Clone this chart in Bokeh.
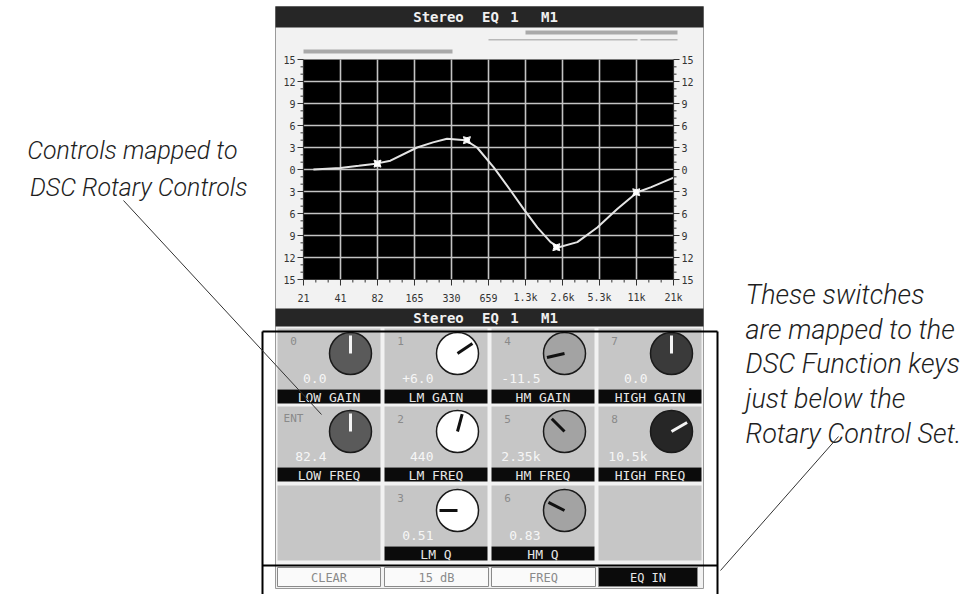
import math
from bokeh.plotting import figure
from bokeh.models import Range1d, LogScale
from bokeh.core.properties import value
from bokeh.embed import file_html
from bokeh.resources import INLINE

# ---------------- data ----------------
FREQ_HZ = [24.8, 41, 58, 80, 105, 173, 233, 303, 428, 532, 727, 1000, 1275,
           1645, 2110, 2460, 3480, 5060, 7350, 10700, 13900, 21100]
GAIN_DB = [0.0, 0.2, 0.5, 0.8, 1.2, 3.0, 3.7, 4.2, 4.0, 3.0, 0.3, -2.9, -5.4,
           -7.9, -9.9, -10.6, -9.9, -7.9, -5.4, -3.1, -2.4, -1.1]
BAND_FREQ = [82.4, 440, 2350, 10500]
BAND_GAIN = [0.8, 4.0, -10.6, -3.1]

X_TICKS = [20.6, 41.2, 82.4, 164.8, 329.6, 659.3, 1318.5, 2637, 5274, 10548, 21096]
X_TICK_LABELS = ["21", "41", "82", "165", "330", "659", "1.3k", "2.6k", "5.3k", "11k", "21k"]
Y_TICKS = [-15, -12, -9, -6, -3, 0, 3, 6, 9, 12, 15]
Y_TICK_LABELS = ["15", "12", "9", "6", "3", "0", "3", "6", "9", "12", "15"]

SCREEN_TITLE = ["Stereo", "EQ", "1", "M1"]
CONTROL_NAMES = ["LOW GAIN", "LM GAIN", "HM GAIN", "HIGH GAIN",
                 "LOW FREQ", "LM FREQ", "HM FREQ", "HIGH FREQ", "LM Q", "HM Q"]
CONTROL_KEYS = ["0", "1", "4", "7", "ENT", "2", "5", "8", "3", "6"]
CONTROL_VALUES = ["0.0", "+6.0", "-11.5", "0.0", "82.4", "440", "2.35k", "10.5k", "0.51", "0.83"]
KNOB_ANGLES_DEG = [90, 34, 193, 90, 90, 75, 135, 30, 180, 153]
BUTTON_LABELS = ["CLEAR", "15 dB", "FREQ", "EQ IN"]

LEFT_NOTE = ["Controls mapped to", "DSC Rotary Controls"]
RIGHT_NOTE = ["These switches", "are mapped to the", "DSC Function keys",
              "just below the", "Rotary Control Set."]

# ---------------- layout / style ----------------
W, H = 978, 594
PX0, PX1, PY0, PY1 = 0, W, 0, H               # page coordinates of the canvas
EQ_L, EQ_R, EQ_T, EQ_B = 303, 673, 59, 279     # EQ plot area on the page
F_MIN, F_MAX = X_TICKS[0], X_TICKS[-1]
DB_MIN, DB_MAX = Y_TICKS[0], Y_TICKS[-1]

k = (math.log(F_MAX) - math.log(F_MIN)) / (EQ_R - EQ_L)
f_start = math.exp(math.log(F_MIN) - (EQ_L - PX0) * k)
f_end = math.exp(math.log(F_MAX) + (PX1 - EQ_R) * k)
d = (DB_MAX - DB_MIN) / (EQ_B - EQ_T)
db_top = DB_MAX + (EQ_T - PY0) * d
db_bottom = DB_MIN - (PY1 - EQ_B) * d

MONO = value("DejaVu Sans Mono")
NOTE_FONT = value("Roboto Light, Roboto")

p = figure(width=W, height=H, output_backend="svg", toolbar_location=None,
           x_range=Range1d(PX0, PX1), y_range=Range1d(PY1, PY0),
           x_axis_type=None, y_axis_type=None, min_border=0,
           outline_line_color=None, background_fill_color="white",
           border_fill_color="white")
p.grid.visible = False
p.extra_x_ranges = {"freq": Range1d(f_start, f_end)}
p.extra_x_scales = {"freq": LogScale()}
p.extra_y_ranges = {"db": Range1d(db_bottom, db_top)}

# screen panel
p.quad(left=275, right=703, top=6, bottom=588, fill_color="#f2f2f2",
       line_color="#9a9a9a", line_width=1)
# title bars
for ty0, ty1 in [(6, 27), (308, 326)]:
    p.quad(left=275, right=703, top=ty0, bottom=ty1, fill_color="#262626", line_color=None)
    cy = (ty0 + ty1) / 2
    p.text(x=[438, 490, 514, 549], y=[cy] * 4, text=SCREEN_TITLE, text_font=MONO,
           text_font_style="bold", text_font_size="14px", text_color="#f0f0f0",
           text_align="center", text_baseline="middle")
# small level bars under the title
p.quad(left=[525, 303], right=[677, 452], top=[30, 49], bottom=[34, 53],
       fill_color="#a9a9a9", line_color=None)
p.quad(left=[488, 640], right=[637, 677], top=[38.5, 38.5], bottom=[40, 40],
       fill_color="#b8b8b8", line_color=None)

# EQ black area (freq / dB ranges)
p.quad(left=F_MIN, right=F_MAX, bottom=DB_MIN, top=DB_MAX, fill_color="black",
       line_color=None, x_range_name="freq", y_range_name="db")
# grid
p.segment(x0=X_TICKS[1:-1], x1=X_TICKS[1:-1], y0=[DB_MIN] * 9, y1=[DB_MAX] * 9,
          line_color="#c4c4c4", line_width=1.6, x_range_name="freq", y_range_name="db")
p.segment(x0=[F_MIN] * 9, x1=[F_MAX] * 9, y0=Y_TICKS[1:-1], y1=Y_TICKS[1:-1],
          line_color="#c4c4c4", line_width=1.6, x_range_name="freq", y_range_name="db")
# curve
p.line(x=FREQ_HZ, y=GAIN_DB, line_color="#e4e4e4", line_width=2,
       x_range_name="freq", y_range_name="db")
p.scatter(x=BAND_FREQ, y=BAND_GAIN, marker="square_pin", size=7, fill_color="white",
          line_color="white", x_range_name="freq", y_range_name="db")

# axes (left / right / bottom)
minor_db = [v for v in range(DB_MIN, DB_MAX + 1) if v % 3 != 0]
for xa, sgn in [(EQ_L, -1), (EQ_R, 1)]:
    p.segment(x0=[xa] * len(Y_TICKS), x1=[xa + sgn * 6] * len(Y_TICKS), y0=Y_TICKS, y1=Y_TICKS,
              line_color="#333333", line_width=1, y_range_name="db")
    p.segment(x0=[xa] * len(minor_db), x1=[xa + sgn * 3] * len(minor_db), y0=minor_db, y1=minor_db,
              line_color="#333333", line_width=1, y_range_name="db")
    p.segment(x0=[xa], x1=[xa], y0=[DB_MIN], y1=[DB_MAX], line_color="#333333",
              line_width=1.2, y_range_name="db")
p.text(x=[EQ_L - 8] * len(Y_TICKS), y=Y_TICKS, text=Y_TICK_LABELS, text_font=MONO,
       text_font_size="10px", text_color="#333333", text_align="right",
       text_baseline="middle", y_range_name="db")
p.text(x=[EQ_R + 8] * len(Y_TICKS), y=Y_TICKS, text=Y_TICK_LABELS, text_font=MONO,
       text_font_size="10px", text_color="#333333", text_align="left",
       text_baseline="middle", y_range_name="db")
minor_f = []
for i in range(len(X_TICKS) - 1):
    for j in (1, 2):
        minor_f.append(X_TICKS[i] * (X_TICKS[i + 1] / X_TICKS[i]) ** (j / 3))
p.segment(x0=[F_MIN], x1=[F_MAX], y0=[EQ_B], y1=[EQ_B], line_color="#333333",
          line_width=1.2, x_range_name="freq")
p.segment(x0=X_TICKS, x1=X_TICKS, y0=[EQ_B] * len(X_TICKS), y1=[EQ_B + 6] * len(X_TICKS),
          line_color="#333333", line_width=1, x_range_name="freq")
p.segment(x0=minor_f, x1=minor_f, y0=[EQ_B] * len(minor_f), y1=[EQ_B + 3] * len(minor_f),
          line_color="#333333", line_width=1, x_range_name="freq")
p.text(x=X_TICKS, y=[EQ_B + 18] * len(X_TICKS), text=X_TICK_LABELS, text_font=MONO,
       text_font_size="10px", text_color="#333333", text_align="center",
       text_baseline="middle", x_range_name="freq")

# control cells
COL_L = [277, 384, 491, 598]
ROW_T = [328, 406, 485]
CW, CH, BH = 103, 61, 14
SLOTS = [(0, 0), (1, 0), (2, 0), (3, 0), (0, 1), (1, 1), (2, 1), (3, 1), (1, 2), (2, 2)]
KNOB_FILLS = ["#5a5a5a", "#ffffff", "#a3a3a3", "#3a3a3a", "#5a5a5a", "#ffffff",
              "#a3a3a3", "#262626", "#ffffff", "#a3a3a3"]
POINTER = ["#f4f4f4" if f in ("#5a5a5a", "#3a3a3a", "#262626") else "#111111" for f in KNOB_FILLS]

# empty cells in row 3
p.quad(left=[COL_L[0], COL_L[3]], right=[COL_L[0] + CW, COL_L[3] + CW],
       top=[ROW_T[2]] * 2, bottom=[ROW_T[2] + CH + BH] * 2, fill_color="#c6c6c6", line_color=None)

cl = [COL_L[c] for c, r in SLOTS]
ct = [ROW_T[r] for c, r in SLOTS]
p.quad(left=cl, right=[x + CW for x in cl], top=ct, bottom=[y + CH for y in ct],
       fill_color="#c6c6c6", line_color=None)
p.quad(left=cl, right=[x + CW for x in cl], top=[y + CH for y in ct],
       bottom=[y + CH + BH for y in ct], fill_color="#0b0b0b", line_color=None)
p.text(x=[x + CW / 2 for x in cl], y=[y + CH + BH / 2 + 0.5 for y in ct], text=CONTROL_NAMES,
       text_font=MONO, text_font_size="13px", text_color="#e6e6e6", text_align="center",
       text_baseline="middle")
p.text(x=[x + 16 for x in cl], y=[y + 12 for y in ct], text=CONTROL_KEYS, text_font=MONO,
       text_font_size="11px", text_color="#8a8a8a", text_align="center", text_baseline="middle")
p.text(x=[x + 49 for x in cl], y=[y + 50 for y in ct], text=CONTROL_VALUES, text_font=MONO,
       text_font_size="13px", text_color="#f6f6f6", text_align="right", text_baseline="middle")
kx = [x + 73 for x in cl]
ky = [y + 25 for y in ct]
p.circle(x=kx, y=ky, radius=21, fill_color=KNOB_FILLS, line_color="#1a1a1a", line_width=1.5)
L = 18
p.segment(x0=kx, y0=ky, x1=[x + L * math.cos(math.radians(a)) for x, a in zip(kx, KNOB_ANGLES_DEG)],
          y1=[y - L * math.sin(math.radians(a)) for y, a in zip(ky, KNOB_ANGLES_DEG)],
          line_color=POINTER, line_width=3)

# function buttons
BTN_R = [380, 488, 595, 697]
btn_fill = ["#fafafa", "#fafafa", "#fafafa", "#0b0b0b"]
btn_text = ["#8a8a8a", "#8a8a8a", "#8a8a8a", "#e6e6e6"]
p.quad(left=COL_L, right=BTN_R, top=[567] * 4, bottom=[586] * 4, fill_color=btn_fill,
       line_color="#8a8a8a", line_width=1)
p.text(x=[(a + b) / 2 for a, b in zip(COL_L, BTN_R)], y=[577] * 4, text=BUTTON_LABELS,
       text_font=MONO, text_font_size="12px", text_color=btn_text, text_align="center",
       text_baseline="middle")

# bracket boxes
p.segment(x0=[262, 262, 262, 717], y0=[331, 565, 331, 331],
          x1=[717, 717, 262, 717], y1=[331, 565, 594, 594], line_color="black", line_width=2)

# annotations
p.text(x=[237, 247], y=[150, 187], text=LEFT_NOTE, text_font=NOTE_FONT,
       text_font_style="italic", text_font_size="25px", text_color="#1e1e1e",
       text_align="right", text_baseline="alphabetic")
p.text(x=[745] * 5, y=[294, 329, 363, 398, 433], text=RIGHT_NOTE, text_font=NOTE_FONT,
       text_font_style="italic", text_font_size="27px", text_color="#1e1e1e",
       text_align="left", text_baseline="alphabetic")
p.segment(x0=[123, 838], y0=[200, 436], x1=[321, 720], y1=[414, 570], line_color="#333333",
          line_width=1)

open("out.html", "w").write(file_html(p, INLINE))
